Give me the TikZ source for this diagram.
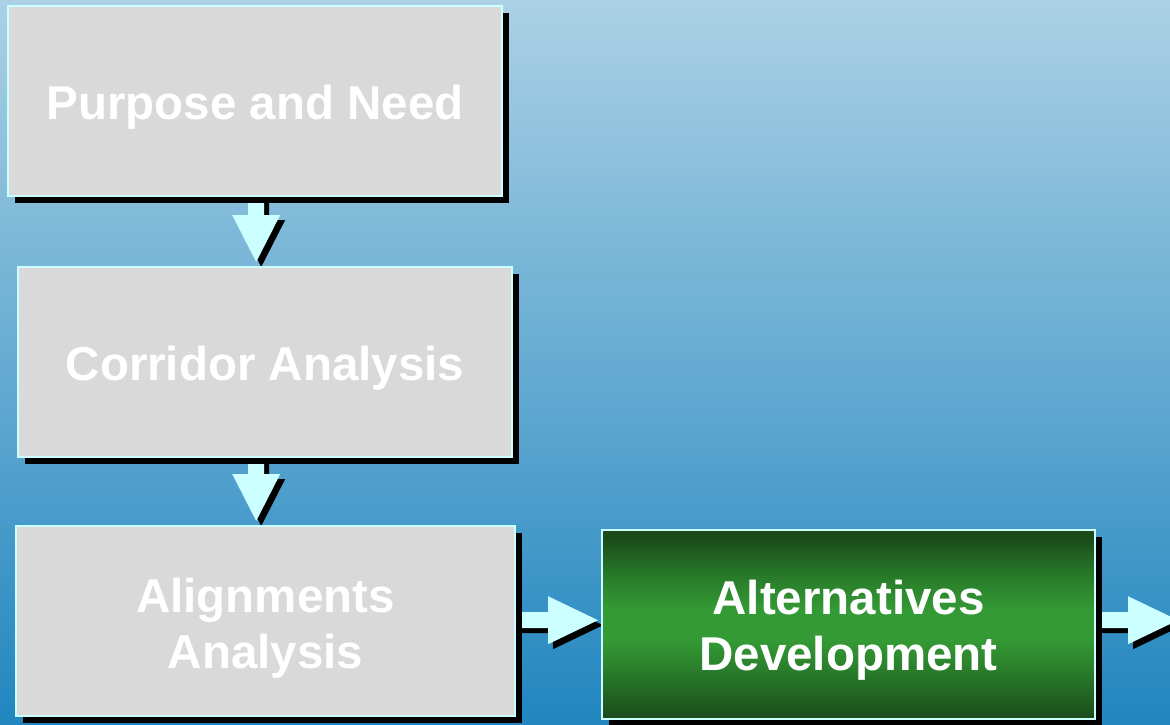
\documentclass[tikz,border=0pt]{standalone}
\usepackage{fontspec}
\setmainfont{Liberation Sans}
\usetikzlibrary{calc}
\definecolor{bgtop}{HTML}{ABD1E5}
\definecolor{bgbot}{HTML}{2186BF}
\definecolor{boxgray}{HTML}{D9D9D9}
\definecolor{edgec}{HTML}{CCFFFF}
\definecolor{arrowc}{HTML}{CCFFFF}
\definecolor{gtop}{HTML}{1B4A1B}
\definecolor{gmidtwo}{HTML}{277628}
\definecolor{gmid}{HTML}{349A35}
\pgfdeclareverticalshading{greensh}{100bp}{color(0bp)=(gtop); color(25bp)=(gtop);
  color(36bp)=(gmidtwo); color(46bp)=(gmid); color(54bp)=(gmid); color(64bp)=(gmidtwo);
  color(73bp)=(gtop); color(100bp)=(gtop)}
% down block arrow from #1 to #2, offset #3 (pt)
\newcommand\dnarrowpath[3]{let \p1=(#1), \p2=(#2) in
 (\x1-8pt+#3pt,\y1-#3pt) -- (\x1+8pt+#3pt,\y1-#3pt) -- (\x1+8pt+#3pt,\y2+51pt-#3pt)
 -- (\x1+24pt+#3pt,\y2+51pt-#3pt) -- (\x1+#3pt,\y2+4pt-#3pt)
 -- (\x1-24pt+#3pt,\y2+51pt-#3pt) -- (\x1-8pt+#3pt,\y2+51pt-#3pt) -- cycle}
% right block arrow from #1 to #2, offset #3 (pt)
\newcommand\rtarrowpath[3]{let \p1=(#1), \p2=(#2) in
 (\x1+#3pt,\y1+8pt-#3pt) -- (\x2-53pt+#3pt,\y1+8pt-#3pt) -- (\x2-53pt+#3pt,\y1+24pt-#3pt)
 -- (\x2-3pt+#3pt,\y1-#3pt) -- (\x2-53pt+#3pt,\y1-24pt-#3pt)
 -- (\x2-53pt+#3pt,\y1-8pt-#3pt) -- (\x1+#3pt,\y1-8pt-#3pt) -- cycle}
\newcommand\tl{\rule{0pt}{46pt}}
\begin{document}
\begin{tikzpicture}[x=1pt,y=-1pt,
  boxgeom/.style={inner sep=0pt, anchor=north west, minimum height=190pt},
  stepbox/.style={boxgeom, draw=edgec, line width=2pt, fill=boxgray, text=white,
    font=\bfseries\fontsize{47.5}{56}\selectfont, align=center},
  greenbox/.style={stepbox, shade, shading=greensh},
  boxshadow/.style={fill=black},
  arrowshadow/.style={fill=black},
  arrowbody/.style={fill=arrowc}]
\shade[top color=bgtop, bottom color=bgbot] (0,0) rectangle (1170,724);
\useasboundingbox (0,0) rectangle (1170,724);

% box outlines used for arrow geometry
\path (7,5) node[boxgeom, minimum width=494pt] (pn0) {};
\path (17,266) node[boxgeom, minimum width=494pt] (ca0) {};
\path (15,525) node[boxgeom, minimum width=499pt] (aa0) {};
\path (601,529) node[boxgeom, minimum width=493pt, minimum height=189pt] (ad0) {};
\coordinate (out) at (1181,620);

% arrows (shadow, then body)
\fill[arrowshadow] \dnarrowpath{$(pn0.south)+(2,0)$}{ca0.north}{5};
\fill[arrowbody] \dnarrowpath{$(pn0.south)+(2,0)$}{ca0.north}{0};
\fill[arrowshadow] \dnarrowpath{$(ca0.south)+(-8,0)$}{aa0.north}{5};
\fill[arrowbody] \dnarrowpath{$(ca0.south)+(-8,0)$}{aa0.north}{0};
\fill[arrowshadow] \rtarrowpath{aa0.east}{ad0.west}{5};
\fill[arrowbody] \rtarrowpath{aa0.east}{ad0.west}{0};
\fill[arrowshadow] \rtarrowpath{$(ad0.east)+(0,-3.5)$}{out}{5};
\fill[arrowbody] \rtarrowpath{$(ad0.east)+(0,-3.5)$}{out}{0};

% box shadows
\foreach \b in {pn0,ca0,aa0,ad0}
  \fill[boxshadow] ($(\b.north west)+(8,8)$) rectangle ($(\b.south east)+(8,8)$);

% boxes
\node[stepbox, minimum width=494pt] (pn) at (7,5) {\tl Purpose and Need};
\node[stepbox, minimum width=494pt] (ca) at (17,266) {\tl Corridor Analysis};
\node[stepbox, minimum width=499pt] (aa) at (15,525) {\rule{0pt}{48pt}Alignments\\Analysis};
\node[greenbox, minimum width=493pt, minimum height=189pt] (ad) at (601,529) {\tl Alternatives\\Development};
\end{tikzpicture}
\end{document}
